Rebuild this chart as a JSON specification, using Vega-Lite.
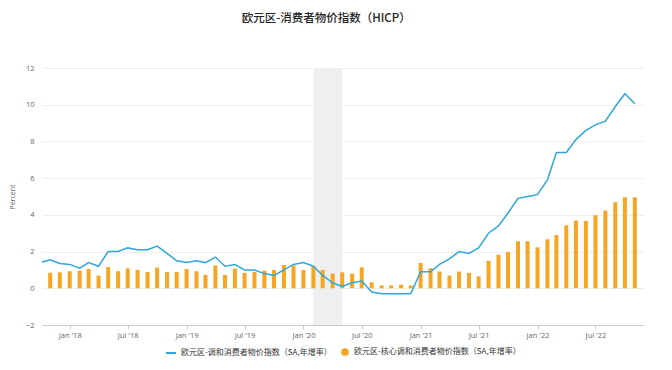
{
  "$schema": "https://vega.github.io/schema/vega-lite/v6.json",
  "autosize": "none",
  "width": 602,
  "height": 257,
  "padding": {"left": 42, "top": 68, "right": 28, "bottom": 45},
  "background": "white",
  "title": {
    "text": "欧元区-消费者物价指数（HICP）",
    "font": "Noto Sans CJK SC",
    "fontSize": 11.5,
    "fontWeight": 500,
    "color": "#222222",
    "anchor": "middle",
    "frame": "bounds",
    "offset": 40
  },
  "config": {
    "view": {"stroke": null},
    "font": "Noto Sans CJK SC",
    "axis": {"labelFont": "Open Sans", "labelColor": "#666666", "labelFontSize": 7.5, "titleFont": "Open Sans"},
    "axisY": {
      "title": "Percent",
      "titleFontSize": 7,
      "titleFontWeight": "normal",
      "titleColor": "#666666",
      "titlePadding": 10,
      "labelOverlap": false,
      "domain": false,
      "ticks": false,
      "gridColor": "#eeeeee",
      "labelPadding": 8
    },
    "legend": {"labelFont": "Noto Sans CJK SC", "labelFontSize": 8, "labelColor": "#333333", "labelLimit": 400, "layout": {"bottom": {"anchor": "middle"}}}
  },
  "datasets": {
    "band": [{"start": "2020-02-01", "end": "2020-05-01"}],
    "series": [
      {"date": "2017-10-01", "hicp": 1.4, "core": null},
      {"date": "2017-11-01", "hicp": 1.55, "core": 0.85},
      {"date": "2017-12-01", "hicp": 1.35, "core": 0.87},
      {"date": "2018-01-01", "hicp": 1.3, "core": 0.93},
      {"date": "2018-02-01", "hicp": 1.1, "core": 0.96},
      {"date": "2018-03-01", "hicp": 1.4, "core": 1.05},
      {"date": "2018-04-01", "hicp": 1.2, "core": 0.69},
      {"date": "2018-05-01", "hicp": 2.0, "core": 1.16},
      {"date": "2018-06-01", "hicp": 2.0, "core": 0.93},
      {"date": "2018-07-01", "hicp": 2.2, "core": 1.09},
      {"date": "2018-08-01", "hicp": 2.1, "core": 1.0},
      {"date": "2018-09-01", "hicp": 2.1, "core": 0.89},
      {"date": "2018-10-01", "hicp": 2.3, "core": 1.13},
      {"date": "2018-11-01", "hicp": 1.9, "core": 0.89},
      {"date": "2018-12-01", "hicp": 1.5, "core": 0.89},
      {"date": "2019-01-01", "hicp": 1.4, "core": 1.05},
      {"date": "2019-02-01", "hicp": 1.5, "core": 0.93},
      {"date": "2019-03-01", "hicp": 1.4, "core": 0.73},
      {"date": "2019-04-01", "hicp": 1.7, "core": 1.24},
      {"date": "2019-05-01", "hicp": 1.2, "core": 0.73},
      {"date": "2019-06-01", "hicp": 1.3, "core": 1.07},
      {"date": "2019-07-01", "hicp": 1.0, "core": 0.84},
      {"date": "2019-08-01", "hicp": 1.0, "core": 0.89},
      {"date": "2019-09-01", "hicp": 0.8, "core": 0.96},
      {"date": "2019-10-01", "hicp": 0.7, "core": 1.0},
      {"date": "2019-11-01", "hicp": 1.0, "core": 1.27},
      {"date": "2019-12-01", "hicp": 1.3, "core": 1.24},
      {"date": "2020-01-01", "hicp": 1.4, "core": 1.0},
      {"date": "2020-02-01", "hicp": 1.2, "core": 1.2},
      {"date": "2020-03-01", "hicp": 0.7, "core": 1.0},
      {"date": "2020-04-01", "hicp": 0.3, "core": 0.8},
      {"date": "2020-05-01", "hicp": 0.1, "core": 0.87},
      {"date": "2020-06-01", "hicp": 0.3, "core": 0.8},
      {"date": "2020-07-01", "hicp": 0.4, "core": 1.14},
      {"date": "2020-08-01", "hicp": -0.2, "core": 0.33},
      {"date": "2020-09-01", "hicp": -0.3, "core": 0.16},
      {"date": "2020-10-01", "hicp": -0.3, "core": 0.16},
      {"date": "2020-11-01", "hicp": -0.3, "core": 0.2},
      {"date": "2020-12-01", "hicp": -0.3, "core": 0.16},
      {"date": "2021-01-01", "hicp": 0.9, "core": 1.38},
      {"date": "2021-02-01", "hicp": 0.9, "core": 1.09},
      {"date": "2021-03-01", "hicp": 1.3, "core": 0.91},
      {"date": "2021-04-01", "hicp": 1.6, "core": 0.69},
      {"date": "2021-05-01", "hicp": 2.0, "core": 0.91},
      {"date": "2021-06-01", "hicp": 1.9, "core": 0.84},
      {"date": "2021-07-01", "hicp": 2.2, "core": 0.65},
      {"date": "2021-08-01", "hicp": 3.0, "core": 1.5},
      {"date": "2021-09-01", "hicp": 3.4, "core": 1.83},
      {"date": "2021-10-01", "hicp": 4.1, "core": 1.98},
      {"date": "2021-11-01", "hicp": 4.9, "core": 2.56},
      {"date": "2021-12-01", "hicp": 5.0, "core": 2.56},
      {"date": "2022-01-01", "hicp": 5.1, "core": 2.23},
      {"date": "2022-02-01", "hicp": 5.9, "core": 2.67},
      {"date": "2022-03-01", "hicp": 7.4, "core": 2.9},
      {"date": "2022-04-01", "hicp": 7.4, "core": 3.43},
      {"date": "2022-05-01", "hicp": 8.1, "core": 3.69},
      {"date": "2022-06-01", "hicp": 8.6, "core": 3.67},
      {"date": "2022-07-01", "hicp": 8.9, "core": 3.98},
      {"date": "2022-08-01", "hicp": 9.1, "core": 4.23},
      {"date": "2022-09-01", "hicp": 9.9, "core": 4.69},
      {"date": "2022-10-01", "hicp": 10.6, "core": 4.96},
      {"date": "2022-11-01", "hicp": 10.05, "core": 4.96}
    ]
  },
  "encoding": {
    "x": {
      "field": "date",
      "type": "temporal",
      "scale": {
        "type": "utc",
        "domain": [
          {"year": 2017, "month": 10, "date": 22, "utc": true},
          {"year": 2022, "month": 11, "date": 14, "utc": true}
        ]
      },
      "axis": {
        "title": null,
        "format": "%b '%y",
        "tickCount": {"interval": "month", "step": 6},
        "grid": false,
        "domainColor": "#cccccc",
        "tickColor": "#cccccc",
        "tickSize": 4,
        "labelPadding": 2
      }
    }
  },
  "layer": [
    {
      "data": {"name": "band"},
      "mark": {"type": "rect", "color": "#efefef"},
      "encoding": {
        "x": {"field": "start", "type": "temporal"},
        "x2": {"field": "end"}
      }
    },
    {
      "data": {"name": "series"},
      "transform": [{"filter": "false"}],
      "mark": {"type": "line", "strokeWidth": 1.5, "clip": true},
      "encoding": {
        "y": {
          "field": "hicp",
          "type": "quantitative",
          "scale": {"domain": [-2, 12]},
          "axis": {"title": "Percent", "values": [-2, 0, 2, 4, 6, 8, 10, 12]}
        },
        "color": {
          "datum": "欧元区-调和消费者物价指数（SA,年增率）",
          "scale": {"range": ["#2ea7dd"]},
          "legend": {"title": null, "orient": "bottom", "symbolType": "stroke", "symbolStrokeWidth": 2, "symbolSize": 100, "offset": 8}
        }
      }
    },
    {
      "data": {"name": "series"},
      "transform": [{"filter": "datum.core != null"}],
      "mark": {"type": "bar", "size": 4, "clip": true},
      "encoding": {
        "y": {
          "field": "core",
          "type": "quantitative",
          "axis": {"title": "Percent", "values": [-2, 0, 2, 4, 6, 8, 10, 12]}
        },
        "fill": {
          "datum": "欧元区-核心调和消费者物价指数（SA,年增率）",
          "scale": {"range": ["#f5a623"]},
          "legend": {"title": null, "orient": "bottom", "symbolType": "circle", "symbolSize": 60, "offset": 8}
        }
      }
    },
    {
      "data": {"name": "series"},
      "mark": {"type": "line", "strokeWidth": 1.5, "clip": true},
      "encoding": {
        "y": {
          "field": "hicp",
          "type": "quantitative",
          "axis": {"title": "Percent", "values": [-2, 0, 2, 4, 6, 8, 10, 12]}
        },
        "color": {
          "datum": "欧元区-调和消费者物价指数（SA,年增率）"
        }
      }
    }
  ]
}
